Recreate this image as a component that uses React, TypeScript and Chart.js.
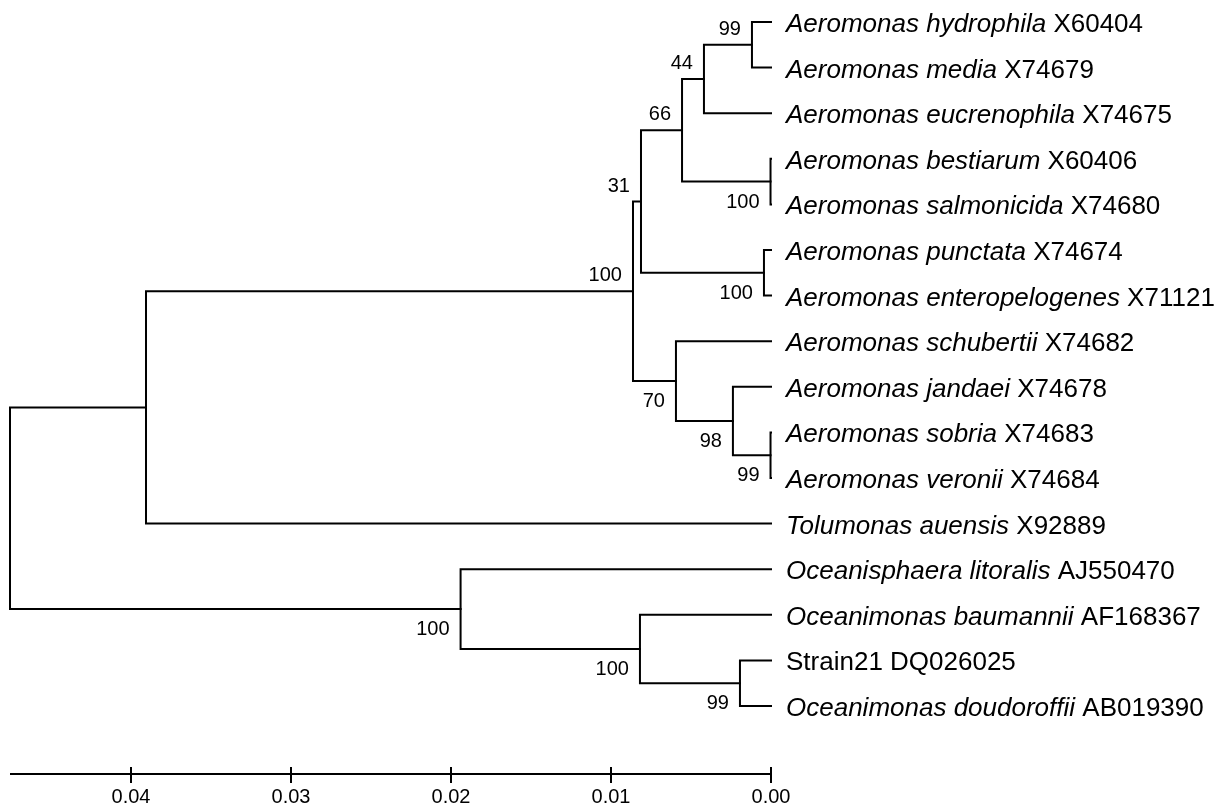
import React, { useEffect, useRef } from "react";
import { Chart, registerables } from "chart.js";

Chart.register(...registerables);

// ---- Data ----
const LEAF_TAXA = [
  "Aeromonas hydrophila",
  "Aeromonas media",
  "Aeromonas eucrenophila",
  "Aeromonas bestiarum",
  "Aeromonas salmonicida",
  "Aeromonas punctata",
  "Aeromonas enteropelogenes",
  "Aeromonas schubertii",
  "Aeromonas jandaei",
  "Aeromonas sobria",
  "Aeromonas veronii",
  "Tolumonas auensis",
  "Oceanisphaera litoralis",
  "Oceanimonas baumannii",
  "Strain21",
  "Oceanimonas doudoroffii",
];
const LEAF_ITALIC = [
  true, true, true, true, true, true, true, true,
  true, true, true, true, true, true, false, true,
];
const LEAF_ACCESSIONS = [
  "X60404", "X74679", "X74675", "X60406", "X74680", "X74674", "X71121", "X74682",
  "X74678", "X74683", "X74684", "X92889", "AJ550470", "AF168367", "DQ026025", "AB019390",
];

// internal nodes: id, distance from tips (substitutions/site), children, bootstrap
const NODE_IDS = ["N0", "N1", "N2", "N3", "N4", "N5", "N5a", "N6", "N7", "N8", "N9", "N10", "N11", "N12", "N13"];
const NODE_HEIGHTS = [0.04756, 0.03906, 0.008625, 0.008125, 0.00556, 0.00419, 0.00119, 0.00003, 0.00044, 0.00594, 0.00238, 0.00003, 0.0194, 0.00819, 0.00194];
const NODE_CHILDREN: [string, string][] = [
  ["N1", "N11"],
  ["N2", "L11"],
  ["N3", "N8"],
  ["N4", "N7"],
  ["N5", "N6"],
  ["N5a", "L2"],
  ["L0", "L1"],
  ["L3", "L4"],
  ["L5", "L6"],
  ["L7", "N9"],
  ["L8", "N10"],
  ["L9", "L10"],
  ["L12", "N12"],
  ["L13", "N13"],
  ["L14", "L15"],
];
const NODE_BOOTSTRAP: (number | null)[] = [null, null, 100, 31, 66, 44, 99, 100, 100, 70, 98, 99, 100, 100, 99];

const AXIS_MAX = 0.04756;
const TICK_VALUES = [0.04, 0.03, 0.02, 0.01, 0.0];
const TICK_LABELS = ["0.04", "0.03", "0.02", "0.01", "0.00"];

// ---- Tree helpers ----
function heightOf(id: string): number {
  if (id.startsWith("L")) return 0;
  return NODE_HEIGHTS[NODE_IDS.indexOf(id)];
}
function rowOf(id: string): number {
  if (id.startsWith("L")) return parseInt(id.slice(1), 10);
  const [a, b] = NODE_CHILDREN[NODE_IDS.indexOf(id)];
  return (rowOf(a) + rowOf(b)) / 2;
}
function isUpperChild(id: string): boolean {
  for (const pair of NODE_CHILDREN) {
    if (pair[0] === id) return true;
    if (pair[1] === id) return false;
  }
  return true;
}

const FONT = '"Liberation Sans", Arial, Helvetica, sans-serif';

const labelsPlugin = {
  id: "treeLabels",
  afterDraw(chart: any) {
    const ctx = chart.ctx as CanvasRenderingContext2D;
    const xs = chart.scales.x;
    const ys = chart.scales.y;
    ctx.save();
    ctx.fillStyle = "#000";

    // leaf labels
    ctx.textBaseline = "alphabetic";
    ctx.textAlign = "left";
    LEAF_TAXA.forEach((taxon, i) => {
      const x0 = xs.getPixelForValue(0) + 15;
      const y = ys.getPixelForValue(i) + 10;
      ctx.font = (LEAF_ITALIC[i] ? "italic " : "") + "26px " + FONT;
      ctx.fillText(taxon, x0, y);
      const w = ctx.measureText(taxon).width;
      ctx.font = "26px " + FONT;
      const sp = ctx.measureText(" ").width;
      ctx.fillText(LEAF_ACCESSIONS[i], x0 + w + sp, y);
    });

    // bootstrap labels
    ctx.font = "20px " + FONT;
    ctx.textAlign = "right";
    NODE_IDS.forEach((id, k) => {
      const bs = NODE_BOOTSTRAP[k];
      if (bs === null) return;
      const px = xs.getPixelForValue(NODE_HEIGHTS[k]) - 11;
      const py = ys.getPixelForValue(rowOf(id));
      const by = isUpperChild(id) ? py - 10 : py + 26;
      ctx.fillText(String(bs), px, by);
    });

    // scale bar
    const barY = Math.round(chart.chartArea.bottom + 68);
    ctx.strokeStyle = "#000";
    ctx.lineWidth = 2;
    ctx.beginPath();
    ctx.moveTo(xs.getPixelForValue(AXIS_MAX), barY);
    ctx.lineTo(xs.getPixelForValue(0), barY);
    ctx.stroke();
    ctx.textAlign = "center";
    TICK_VALUES.forEach((v, i) => {
      const tx = Math.round(xs.getPixelForValue(v));
      ctx.beginPath();
      ctx.moveTo(tx, barY - 7);
      ctx.lineTo(tx, barY + 9);
      ctx.stroke();
      ctx.fillText(TICK_LABELS[i], tx, barY + 29);
    });
    ctx.restore();
  },
};

export default function App() {
  const ref = useRef<HTMLCanvasElement | null>(null);
  useEffect(() => {
    if (!ref.current) return;
    const datasets = NODE_IDS.map((id, k) => {
      const [a, b] = NODE_CHILDREN[k];
      const h = NODE_HEIGHTS[k];
      return {
        data: [
          { x: heightOf(a), y: rowOf(a) },
          { x: h, y: rowOf(a) },
          { x: h, y: rowOf(b) },
          { x: heightOf(b), y: rowOf(b) },
        ],
        showLine: true,
        borderColor: "#000",
        borderWidth: 2,
        pointRadius: 0,
        tension: 0,
        clip: false as any,
        borderJoinStyle: "miter" as const,
        borderCapStyle: "square" as const,
      };
    });
    const chart = new Chart(ref.current, {
      type: "scatter",
      data: { datasets },
      options: {
        animation: false,
        responsive: false,
        events: [],
        layout: { padding: { left: 10, right: 458, top: 22, bottom: 99 } },
        scales: {
          x: { type: "linear", min: 0, max: AXIS_MAX, reverse: true, display: false },
          y: { type: "linear", min: 0, max: 15, reverse: true, display: false },
        },
        plugins: { legend: { display: false }, tooltip: { enabled: false } },
      },
      plugins: [labelsPlugin],
    });
    return () => chart.destroy();
  }, []);
  return (
    <div style={{ position: "absolute", left: 0, top: 0, width: 1229, height: 805, background: "#fff" }}>
      <canvas ref={ref} width={1229} height={805} />
    </div>
  );
}
